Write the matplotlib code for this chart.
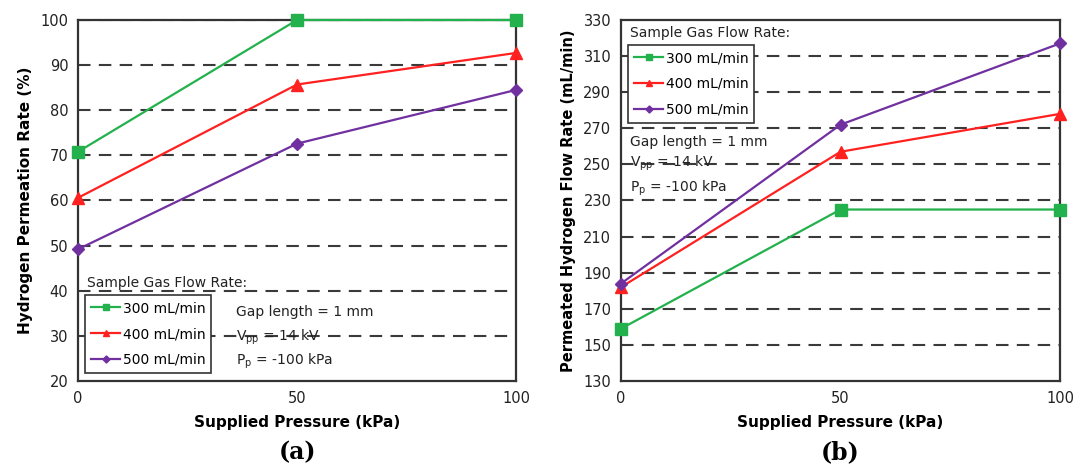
"""
Hydrogen permeation vs supplied pressure, panels (a) and (b).
"""

import matplotlib
matplotlib.use("Agg")
import matplotlib.pyplot as plt

pressure = [0, 50, 100]
series_labels = ['300 mL/min', '400 mL/min', '500 mL/min']

# (a) permeation rate, %
rate_300 = [70.8, 100.0, 100.0]
rate_400 = [60.6, 85.7, 92.7]
rate_500 = [49.2, 72.6, 84.5]

# (b) permeated flow rate, mL/min
flow_300 = [159, 225, 225]
flow_400 = [182, 257, 278]
flow_500 = [184, 272, 317]

colors = ['#22b14c', '#ff2020', '#7030a0']
markers = ['s', '^', 'D']
msizes = [8, 8, 6]
frame_col = '#333333'

plt.rcParams['font.family'] = 'DejaVu Sans'

fig = plt.figure(figsize=(10.78, 4.69), dpi=100)
ax_a = fig.add_axes([0.0724, 0.1876, 0.4063, 0.7698])
ax_b = fig.add_axes([0.5761, 0.1876, 0.4072, 0.7698])


def style_axes(ax, ylim, yticks, grid_vals, ylabel, ylabel_size, panel):
    ax.set_xlim(0, 100)
    ax.set_ylim(*ylim)
    ax.set_xticks([0, 50, 100])
    ax.set_yticks(yticks)
    for g in grid_vals:
        ax.axhline(g, color='#3a3a3a', linestyle=(0, (6, 4)), linewidth=1.5, zorder=1)
    for sp in ax.spines.values():
        sp.set_color(frame_col)
        sp.set_linewidth(1.6)
    ax.tick_params(length=0, labelsize=10.5, colors='#222222', pad=7)
    ax.set_xlabel('Supplied Pressure (kPa)', fontsize=11, fontweight='bold', labelpad=7)
    ax.set_ylabel(ylabel, fontsize=ylabel_size, fontweight='bold', labelpad=5)
    ax.text(0.5, -0.165, panel, transform=ax.transAxes, ha='center', va='top',
            fontsize=17, fontweight='bold', family='DejaVu Serif')


def draw_series(ax, data):
    handles = []
    for vals, c, m, ms, lab in zip(data, colors, markers, msizes, series_labels):
        h, = ax.plot(pressure, vals, color=c, marker=m, markersize=ms, linewidth=1.6,
                     label=lab, zorder=3, clip_on=False)
        handles.append(h)
    return handles


def add_legend(ax, handles, title_y, top_y):
    ax.text(0.02, title_y, 'Sample Gas Flow Rate:', transform=ax.transAxes,
            fontsize=10, va='center', ha='left', color='#222222')
    leg = ax.legend(handles=handles, loc='upper left', bbox_to_anchor=(0.016, top_y),
                    fontsize=10, markerscale=0.6, handlelength=2.1, handletextpad=0.15,
                    borderpad=0.45, labelspacing=0.85, fancybox=False, framealpha=1,
                    borderaxespad=0)
    leg.get_frame().set_edgecolor(frame_col)
    leg.get_frame().set_linewidth(1.2)


def add_notes(ax, x, ys):
    notes = ['Gap length = 1 mm', r'V$_{\mathrm{pp}}$ = 14 kV', r'P$_{\mathrm{p}}$ = -100 kPa']
    for y, s in zip(ys, notes):
        ax.text(x, y, s, transform=ax.transAxes, fontsize=10, va='center', color='#222222')


# panel (a)
style_axes(ax_a, (20, 100), range(20, 101, 10), range(30, 101, 10),
           'Hydrogen Permeation Rate (%)', 11, '(a)')
h_a = draw_series(ax_a, [rate_300, rate_400, rate_500])
add_legend(ax_a, h_a, 0.272, 0.238)
add_notes(ax_a, 0.36, [0.19, 0.12, 0.055])

# panel (b)
style_axes(ax_b, (130, 330), range(130, 331, 20), range(150, 311, 20),
           'Permeated Hydrogen Flow Rate (mL/min)', 10.5, '(b)')
h_b = draw_series(ax_b, [flow_300, flow_400, flow_500])
add_legend(ax_b, h_b, 0.964, 0.931)
add_notes(ax_b, 0.02, [0.662, 0.604, 0.535])

fig.savefig('out.png', dpi=100)
